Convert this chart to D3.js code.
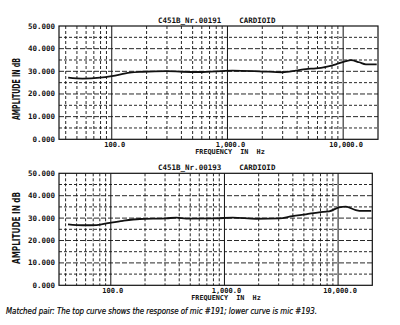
<!DOCTYPE html>
<html><head><meta charset="utf-8">
<script src="https://cdn.jsdelivr.net/npm/d3@7"></script>
<style>body{margin:0;background:#fff}svg{display:block}</style>
</head><body><svg id="c" width="400" height="325"></svg>
<script>
const yTicks = [0,10,20,30,40,50];
const yTickLabels = ["0.000","10.000","20.000","30.000","40.000","50.000"];
const xMajor = [100,1000,10000];
const xMajorLabels = ["100.0","1,000.0","10,000.0"];
const xMinor = [40,50,60,70,80,90,200,300,400,500,600,700,800,900,2000,3000,4000,5000,6000,7000,8000,9000];
const freq191 = [42,56,79,100,143,185,298,409,574,1104,1888,3000,3910,4770,5820,7100,8650,10550,11650,13740,15700,19500];
const amp191  = [27.2,26.8,27.2,27.9,29.4,29.8,30.1,29.8,29.7,30.3,30.0,29.6,30.3,31.0,31.3,32.0,33.1,34.5,34.9,34.0,33.1,33.1];
const freq193 = [42,57,75,98,128,180,308,377,461,846,1183,1897,3037,3970,5210,6810,8330,10200,11700,14300,16300,19600];
const amp193  = [27.2,26.8,26.9,27.9,28.8,29.6,29.9,30.2,29.8,29.9,30.2,29.7,29.9,30.9,31.7,32.6,33.0,34.8,35.1,33.6,33.2,33.2];

const svg = d3.select("#c");
const mono = "'DejaVu Sans Mono', monospace";

function panel(o){
  const g = svg.append("g");
  const x = d3.scaleLog().domain([35,20000]).range([o.x0,o.x1]);
  const y = d3.scaleLinear().domain([0,50]).range([o.y1,o.y0]);
  g.selectAll("line.h").data(d3.range(5,50,5)).join("line")
    .attr("x1",o.x0).attr("x2",o.x1).attr("y1",d=>y(d)).attr("y2",d=>y(d))
    .attr("stroke","#111").attr("stroke-width",0.9).attr("stroke-dasharray",d=>d%10===0?"5,2":"3,2");
  g.selectAll("line.v").data(xMinor).join("line")
    .attr("x1",d=>x(d)).attr("x2",d=>x(d)).attr("y1",o.y0).attr("y2",o.y1)
    .attr("stroke","#111").attr("stroke-width",0.9).attr("stroke-dasharray","3,2");
  g.selectAll("line.vm").data(xMajor).join("line")
    .attr("x1",d=>x(d)).attr("x2",d=>x(d)).attr("y1",o.y0).attr("y2",o.y1)
    .attr("stroke","#111").attr("stroke-width",1);
  g.append("rect").attr("x",o.x0).attr("y",o.y0).attr("width",o.x1-o.x0).attr("height",o.y1-o.y0)
    .attr("fill","none").attr("stroke","#111").attr("stroke-width",1.2);
  g.selectAll("text.yt").data(yTicks).join("text")
    .attr("x",55).attr("y",d=>y(d)+2.5).attr("text-anchor","end")
    .attr("font-family",mono).attr("font-weight","bold").attr("font-size",7.5).attr("fill","#111")
    .text((d,i)=>yTickLabels[i]);
  g.selectAll("text.xt").data(xMajor).join("text")
    .attr("x",d=>x(d)+o.dx).attr("y",o.y1+7.3).attr("text-anchor","middle")
    .attr("font-family",mono).attr("font-weight","bold").attr("font-size",7).attr("fill","#111")
    .text((d,i)=>xMajorLabels[i]);
  g.append("text").attr("x",o.fx).attr("y",o.y1+14.6).attr("text-anchor","middle")
    .attr("font-family",mono).attr("font-weight","bold").attr("font-size",6.8).attr("fill","#111")
    .attr("xml:space","preserve").text("FREQUENCY  IN  Hz");
  g.append("text").attr("x",158).attr("y",o.y0-3).attr("font-family",mono).attr("font-weight","bold")
    .attr("font-size",7.5).attr("fill","#111").attr("xml:space","preserve").text(o.title);
  g.append("text").attr("transform",`translate(19.5,${o.ly}) rotate(-90)`).attr("text-anchor","middle")
    .attr("font-family","'DejaVu Sans Condensed','DejaVu Sans',sans-serif").attr("font-weight","bold")
    .attr("font-size",10).attr("fill","#111").attr("textLength",o.lw).attr("lengthAdjust","spacingAndGlyphs")
    .text("AMPLITUDE IN dB");
  const line = d3.line().x(d=>x(d[0])).y(d=>y(d[1])).curve(d3.curveMonotoneX);
  g.append("path").datum(d3.zip(o.f,o.a)).attr("d",line).attr("fill","none")
    .attr("stroke","#111").attr("stroke-width",1.8);
}

panel({x0:59,x1:378,y0:26,y1:139.3,title:"C451B_Nr.00191    CARDIOID",f:freq191,a:amp191,ly:89,lw:62,dx:3,fx:230});
panel({x0:59,x1:372.3,y0:173.3,y1:285.3,title:"C451B_Nr.00193    CARDIOID",f:freq193,a:amp193,ly:228,lw:72,dx:2,fx:226});

svg.append("text").attr("x",6).attr("y",314).attr("font-family","'Liberation Sans Narrow','DejaVu Sans Condensed',sans-serif")
  .attr("font-style","italic").attr("font-size",9.5).attr("fill","#000")
  .attr("stroke","#000").attr("stroke-width",0.2)
  .attr("textLength",311).attr("lengthAdjust","spacingAndGlyphs")
  .text("Matched pair: The top curve shows the response of mic #191; lower curve is mic #193.");
</script></body></html>
